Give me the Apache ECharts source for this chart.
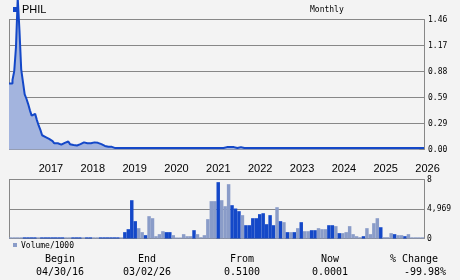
<!DOCTYPE html>
<html><head><meta charset="utf-8">
<script src="https://cdn.jsdelivr.net/npm/echarts@6/dist/echarts.min.js"></script>
<style>html,body{margin:0;padding:0;background:#f3f3f3}#c{width:460px;height:280px}</style>
</head><body><div id="c"></div><script>
// ---- data ----
const XMIN = 2016.29;            // start of data (fractional year)
const PRICE_STEP = 1 / 24;       // half-month sampling
const years = [2017, 2018, 2019, 2020, 2021, 2022, 2023, 2024, 2025, 2026];
const priceTicks = ['0.00', '0.29', '0.59', '0.88', '1.17', '1.46'];
const volTicks = ['0', '4,969', '8'];
const price = [
  0.74,0.74,0.78,0.88,1.15,1.70,1.34,0.90,0.76,0.62,0.57,0.51,0.44,0.38,0.40,0.42,0.33,0.27,0.22,0.16,
  0.14,0.13,0.12,0.10,0.095,0.08,0.07,0.07,0.055,0.055,0.065,0.075,0.08,0.09,0.075,0.06,0.05,0.05,0.045,0.03,
  0.06,0.075,0.08,0.08,0.07,0.06,0.07,0.075,0.08,0.08,0.075,0.065,0.06,0.045,0.04,0.035,0.03,0.03,0.03,
  0.016,0.016,0.016,0.016,0.016,0.016,0.016,0.016,0.016,0.016,0.016,0.016,0.016,0.016,0.016,0.016,
  0.016,0.016,0.016,0.016,0.016,0.016,0.016,0.016,0.016,0.016,0.016,0.016,0.016,0.016,0.016,0.016,
  0.016,0.016,0.016,0.016,0.016,0.016,0.016,0.016,0.016,0.016,0.016,0.016,0.016,0.016,0.016,0.016,
  0.016,0.016,0.016,0.016,0.016,0.016,0.016,0.016,0.016,0.016,0.016,0.016,0.016,0.016,0.016,0.016,
  0.027,0.027,0.027,0.027,0.027,0.027,0.016,0.016,0.027,0.027,
  0.016,0.016,0.016,0.016,0.016,0.016,0.016,0.016,0.016,0.016,0.016,0.016,0.016,0.016,0.016,0.016,
  0.016,0.016,0.016,0.016,0.016,0.016,0.016,0.016,0.016,0.016,0.016,0.016,0.016,0.016,0.016,0.016,
  0.016,0.016,0.016,0.016,0.016,0.016,0.016,0.016,0.016,0.016,0.016,0.016,0.016,0.016,0.016,0.016,
  0.016,0.016,0.016,0.016,0.016,0.016,0.016,0.016,0.016,0.016,0.016,0.016,0.016,0.016,0.016,0.016,
  0.016,0.016,0.016,0.016,0.016,0.016,0.016,0.016,0.016,0.016,0.016,0.016,0.016,0.016,0.016,0.016,
  0.016,0.016,0.016,0.016,0.016,0.016,0.016,0.016,0.016,0.016,0.016,0.016,0.016,0.016,0.016,0.016,
  0.016,0.016,0.016,0.016,0.016,0.016,0.016,0.016,0.016,0.016
];
const volume = [
  200,200,200,200,200,200,200,200,200,200,200,200,200,200,200,200,200,200,200,200,200,200,200,200,200,200,200,200,200,200,200,200,200,
  1070,1570,6450,2920,1740,1070,560,3760,3420,390,
  730,1230,1070,1070,560,170,170,730,390,390,
  1400,730,220,560,3260,6290,6290,9490,6450,5440,
  9150,5610,5050,4600,3930,2240,2240,3420,3420,4100,
  4260,2410,3930,2240,5270,2920,2750,1070,1070,1070,
  1740,2750,1230,1230,1400,1400,1740,1570,1570,2240,
  2240,2080,900,900,1070,2080,730,390,220,390,
  1740,730,2580,3420,1900,220,220,900,730,560,
  560,390,730,200,200,200,200
];
const volUp = [
  0,0,0,0,1,1,1,1,0,1,1,1,1,1,1,1,0,0,1,1,1,0,1,1,0,0,1,1,1,1,1,1,0,
  1,1,1,1,0,0,1,0,0,0,
  0,0,1,1,0,0,0,0,0,0,
  1,0,0,0,0,0,0,1,0,0,
  0,1,1,1,0,1,1,1,1,1,
  1,1,1,1,0,1,0,1,0,1,
  0,1,0,0,1,1,0,0,0,1,
  1,0,1,0,0,0,0,0,0,1,
  0,0,0,0,1,0,0,0,1,0,
  0,1,0,0,0,0,0
];
const statHeaders = ['Begin', 'End', 'From', 'Now', '% Change'];
const statValues = ['04/30/16', '03/02/26', '0.5100', '0.0001', '-99.98%'];

// ---- chart ----
const DARK = '#1448c8', LIGHT = '#8a9cc8', AREA = '#a3b4de', GRID = '#878787';
const MONO = 'DejaVu Sans Mono';
const XMAX = XMIN + (price.length - 1) * PRICE_STEP;
const priceData = price.map((v, i) => [XMIN + i * PRICE_STEP, v]);
const cats = volume.map((_, i) => i);

const statX = [60, 147, 242, 330, 414];
const statValX = [60, 147, 242, 330, 425];
const graphics = [
  { type: 'rect', shape: { x: 13, y: 7, width: 6, height: 5 }, style: { fill: DARK } },
  { type: 'text', style: { text: 'PHIL', x: 22, y: 9.5, verticalAlign: 'middle', font: '11px "Liberation Sans"', fill: '#000' } },
  { type: 'text', style: { text: 'Monthly', x: 310, y: 9.5, verticalAlign: 'middle', font: '8px "DejaVu Sans Mono"', fill: '#000' } },
  { type: 'rect', shape: { x: 13, y: 243, width: 4, height: 4 }, style: { fill: LIGHT } },
  { type: 'text', style: { text: 'Volume/1000', x: 21, y: 245.5, verticalAlign: 'middle', font: '8px "DejaVu Sans Mono"', fill: '#000' } }
];
statHeaders.forEach((t, i) => graphics.push({ type: 'text', style: { text: t, x: statX[i], y: 259, align: 'center', verticalAlign: 'middle', font: '10px "DejaVu Sans Mono"', fill: '#000' } }));
statValues.forEach((t, i) => graphics.push({ type: 'text', style: { text: t, x: statValX[i], y: 272.5, align: 'center', verticalAlign: 'middle', font: '10px "DejaVu Sans Mono"', fill: '#000' } }));

const borderAxis = (grid, max) => ({
  gridIndex: grid, type: 'value', min: 0, max: max, position: 'left',
  axisLine: { show: true, lineStyle: { color: GRID, width: 1 } },
  axisTick: { show: false }, axisLabel: { show: false }, splitLine: { show: false }
});

const chart = echarts.init(document.getElementById('c'), null, { renderer: 'canvas' });
chart.setOption({
  animation: false,
  backgroundColor: '#f3f3f3',
  grid: [
    { left: 9, right: 36, top: 19.5, height: 130 },
    { left: 9, right: 36, top: 179.5, height: 59 }
  ],
  xAxis: [
    { gridIndex: 0, type: 'value', min: XMIN, max: XMAX,
      axisLine: { show: false }, axisTick: { show: false }, splitLine: { show: false },
      axisLabel: { customValues: years, formatter: v => String(v), align: 'left', margin: 14,
        fontFamily: 'Liberation Sans', fontSize: 11, color: '#000' } },
    { gridIndex: 1, type: 'category', data: cats, show: false, boundaryGap: true }
  ],
  yAxis: [
    { gridIndex: 0, type: 'value', min: 0, max: 1.46, interval: 0.292, position: 'right',
      axisLine: { show: true, lineStyle: { color: GRID, width: 1 } }, axisTick: { show: false },
      splitLine: { show: true, lineStyle: { color: GRID, width: 1 } },
      axisLabel: { margin: 4, fontFamily: MONO, fontSize: 8, color: '#000', padding: [3, 0, 0, 0],
        formatter: v => priceTicks[Math.round(v / 0.292)] } },
    borderAxis(0, 1.46),
    { gridIndex: 1, type: 'value', min: 0, max: 9938, interval: 4969, position: 'right',
      axisLine: { show: true, lineStyle: { color: GRID, width: 1 } }, axisTick: { show: false },
      splitLine: { show: true, lineStyle: { color: GRID, width: 1 } },
      axisLabel: { margin: 3, fontFamily: MONO, fontSize: 8, color: '#000', padding: [3, 0, 0, 0],
        formatter: v => volTicks[Math.round(v / 4969)] } },
    borderAxis(1, 9938)
  ],
  series: [
    { name: 'PHIL', type: 'line', xAxisIndex: 0, yAxisIndex: 0, step: 'end', symbol: 'none', clip: false,
      lineStyle: { color: DARK, width: 2 }, itemStyle: { color: DARK },
      areaStyle: { color: AREA, opacity: 1 }, data: priceData, z: 3 },
    { name: 'Volume/1000', type: 'bar', xAxisIndex: 1, yAxisIndex: 2, barCategoryGap: '0%',
      itemStyle: { color: p => volUp[p.dataIndex] ? DARK : LIGHT }, data: volume, z: 3 }
  ],
  graphic: graphics
});
</script></body></html>
